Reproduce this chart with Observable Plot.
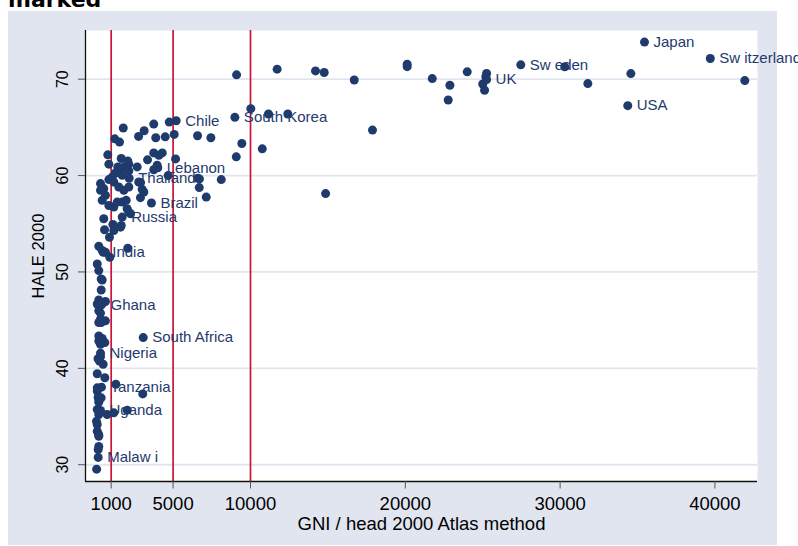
<!DOCTYPE html>
<html><head><meta charset="utf-8">
<script src="https://cdn.jsdelivr.net/npm/d3@7"></script>
<script src="https://cdn.jsdelivr.net/npm/@observablehq/plot@0.6"></script>
<style>
html,body{margin:0;padding:0;background:#fff;width:798px;height:546px;overflow:hidden;}
#wrap{position:relative;width:798px;height:546px;overflow:hidden;}
#bg{position:absolute;left:8px;top:11px;width:769px;height:534px;background:#E1E5F0;}
#title{position:absolute;left:8px;top:-11px;font:bold 22px "DejaVu Sans";line-height:22px;color:#000;white-space:nowrap;}
#chart{position:absolute;left:0;top:0;}
</style></head><body>
<div id="wrap"><div id="bg"></div><div id="title">marked</div><div id="chart"></div></div>
<script>
// GNI per head 2000 (Atlas method) for unlabelled countries
const gniValues = [41930,34570,31790,30300,25250,25200,25000,25120,24000,22880,22770,21740,20120,20120,16700,14760,14200,11720,9100,14850,17880,12410,11160,10020,10760,9440,9080,8110,7440,6580,6600,6700,6690,7140,4750,3750,1780,3130,2770,3880,4490,5070,1230,1540,780,1650,2070,3350,3750,4080,4300,5160,850,2680,3750,3970,4680,2900,3000,2890,1430,1820,2140,2140,310,520,310,850,1070,1280,1490,1710,1170,1490,1820,2140,630,420,850,1170,1390,1710,1970,2030,2140,2250,2780,3110,520,1110,1650,570,1170,1600,890,200,420,630,910,2070,100,200,355,420,355,200,630,100,420,200,310,310,630,355,200,200,420,200,590,310,310,245,480,150,100,590,1300,3040,100,100,200,355,200,160,100,200,740,1170,2035,50,100,100,200,200,200,160,60];
// HALE 2000 for the same countries
const haleValues = [69.85,70.58,69.54,71.28,70.6,70.25,69.5,68.85,70.76,69.37,67.84,70.06,71.56,71.3,69.92,70.69,70.86,71.04,70.45,58.13,64.72,66.39,66.39,66.94,62.77,63.33,61.94,59.58,63.92,64.13,59.72,59.65,58.75,57.77,65.55,65.34,64.93,64.65,64.06,63.92,64.02,64.27,63.81,63.47,62.15,61.77,61.52,61.63,62.35,62.1,62.35,61.73,61.18,60.9,60.6,61.07,60.0,59.27,58.57,57.71,60.9,60.9,60.48,61.18,59.17,58.65,58.47,59.58,59.85,60.27,60.63,60.03,59.33,58.81,58.47,58.81,57.95,57.43,56.9,56.73,57.25,57.25,57.43,56.56,56.21,56.04,59.33,58.29,55.52,54.93,54.82,54.38,54.3,54.65,53.6,52.67,52.22,52.04,51.52,52.46,50.83,50.14,49.27,49.17,48.13,47.1,46.94,46.67,46.77,45.97,45.73,45.1,44.93,44.75,44.75,43.36,43.1,42.84,42.67,42.5,41.2,40.76,40.42,41.0,39.44,39.02,38.35,37.35,37.98,37.64,36.77,36.94,36.49,37.0,35.73,35.21,35.21,35.38,35.66,34.5,34.17,33.47,33.12,32.95,31.9,31.56,29.54];

// Marked countries
const countryNames = ["Japan","Sw itzerland","USA","Sw eden","UK","South Korea","Chile","Lebanon","Thailand","Brazil","Russia","India","Ghana","South Africa","Nigeria","Tanzania","Uganda","Malaw i"];
const countryGni  = [35450,39700,34370,27460,25250,8990,5200,4010,2160,3600,1710,485,375,3070,310,375,310,160];
const countryHale = [73.85,72.15,67.25,71.49,69.95,66.04,65.69,60.8,59.72,57.15,55.69,52.04,46.6,43.19,41.56,38.05,35.63,30.76];

const xTicks = [1000,5000,10000,20000,30000,40000];
const yTicks = [30,40,50,60,70];
const markLines = [1000,5000,10000];
const xLabel = "GNI / head 2000 Atlas method";
const yLabel = "HALE 2000";

const points = gniValues.map((g,i) => ({gni: g, hale: haleValues[i]}));
const marked = countryNames.map((n,i) => ({name: n, gni: countryGni[i], hale: countryHale[i]}));

const navy = "#1F3A6D";
const xDom = [-659, 42750];
const yDom = [28.26, 75.05];

const chart = Plot.plot({
  width: 798, height: 546,
  marginLeft: 85, marginRight: 41, marginTop: 30, marginBottom: 65,
  style: {background: "transparent", fontFamily: "'Liberation Sans', Arial, sans-serif", overflow: "visible"},
  x: {domain: xDom, axis: null},
  y: {domain: yDom, axis: null},
  marks: [
    Plot.frame({fill: "white", stroke: null}),
    Plot.ruleY(yTicks, {stroke: "#E1E5F0", strokeWidth: 1.8}),
    Plot.ruleX(markLines, {stroke: "#CC1438", strokeWidth: 1.7}),
    Plot.dot(points, {x: "gni", y: "hale", r: 4.5, fill: navy, stroke: null}),
    Plot.dot(marked, {x: "gni", y: "hale", r: 4.5, fill: navy, stroke: null}),
    Plot.text(marked, {x: "gni", y: "hale", text: "name", dx: 9, textAnchor: "start", lineAnchor: "middle", fill: navy, fontSize: 15}),
    // axes
    Plot.ruleX([xDom[0]], {stroke: "#111", strokeWidth: 1.3}),
    Plot.ruleY([yDom[0]], {stroke: "#111", strokeWidth: 1.3}),
    Plot.axisY({ticks: yTicks, tickSize: 7, tickFormat: () => "", label: null, stroke: "#555"}),
    Plot.text(yTicks, {frameAnchor: "left", y: d => d, text: d => String(d), rotate: -90, dx: -22.5, textAnchor: "middle", lineAnchor: "middle", fontSize: 16, fill: "#000"}),
    Plot.text([yLabel], {frameAnchor: "left", text: d => d, rotate: -90, dx: -47, textAnchor: "middle", lineAnchor: "middle", fontSize: 16.6, fill: "#000"}),
    Plot.axisX({ticks: xTicks, tickSize: 7.5, tickPadding: 8, tickFormat: d => String(d), label: null, stroke: "#555", fill: "#000", fontSize: 18.5}),
    Plot.text([xLabel], {frameAnchor: "bottom", text: d => d, dy: 35, lineAnchor: "top", textAnchor: "middle", fontSize: 18.5, fill: "#000"})
  ]
});
document.getElementById("chart").appendChild(chart);
</script>
</body></html>
